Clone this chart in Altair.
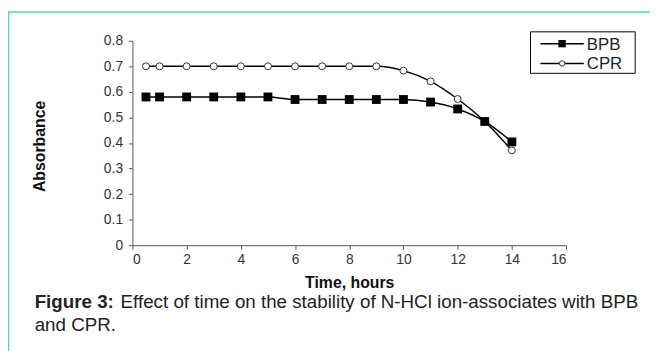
import altair as alt
import pandas as pd

hours = [0.5, 1, 2, 3, 4, 5, 6, 7, 8, 9, 10, 11, 12, 13, 14]
bpb = [0.58, 0.58, 0.58, 0.58, 0.58, 0.58, 0.57, 0.57, 0.57, 0.57, 0.57, 0.56, 0.533, 0.484, 0.404]
cpr = [0.70, 0.70, 0.70, 0.70, 0.70, 0.70, 0.70, 0.70, 0.70, 0.70, 0.683, 0.641, 0.572, 0.484, 0.371]
series_names = ["BPB", "CPR"]
x_ticks = [0, 2, 4, 6, 8, 10, 12, 14, 16]
y_ticks = [0, 0.1, 0.2, 0.3, 0.4, 0.5, 0.6, 0.7, 0.8]
x_title = "Time, hours"
y_title = "Absorbance"
caption_bold = "Figure 3:"
caption_line1 = "Effect of time on the stability of N-HCl ion-associates with BPB"
caption_line2 = "and CPR."

df = pd.DataFrame({
    "hours": hours + hours,
    "absorbance": bpb + cpr,
    "series": [series_names[0]] * len(hours) + [series_names[1]] * len(hours),
})
one = pd.DataFrame({"a": [0]})

W, H = 439, 207
FONT = "Liberation Sans"
TEAL = "#56d3c1"

x_enc = alt.X("hours:Q", scale=alt.Scale(domain=[0, 16], nice=False),
              axis=alt.Axis(values=x_ticks, title=x_title, grid=False, labelOverlap=False,
                            domainColor="#555", tickColor="#555", tickSize=4,
                            labelFont=FONT, labelFontSize=14, labelColor="#333",
                            labelPadding=4,
                            titleFont=FONT, titleFontSize=16, titleFontWeight="bold",
                            titleColor="#111", titleY=38, titleBaseline="middle"))
y_enc = alt.Y("absorbance:Q", scale=alt.Scale(domain=[0, 0.8], nice=False),
              axis=alt.Axis(values=y_ticks, format=".1~f", title=y_title, grid=False,
                            labelOverlap=False,
                            domainColor="#555", tickColor="#555", tickSize=4,
                            labelFont=FONT, labelFontSize=14, labelColor="#333",
                            labelPadding=6,
                            titleFont=FONT, titleFontSize=16, titleFontWeight="bold",
                            titleColor="#111", titleX=-94, titleY=H / 2 + 3,
                            titleAlign="center", titleBaseline="middle"))

base = alt.Chart(df)
lines = base.mark_line(interpolate="monotone", color="black", strokeWidth=1.5).encode(
    x=x_enc, y=y_enc, detail="series:N")
pts_bpb = base.transform_filter(alt.datum.series == "BPB").mark_point(
    shape="square", filled=True, color="black", size=80, opacity=1).encode(x=x_enc, y=y_enc)
pts_cpr = base.transform_filter(alt.datum.series == "CPR").mark_point(
    shape="circle", filled=True, fill="white", stroke="#333", strokeWidth=1, size=50, opacity=1).encode(
    x=x_enc, y=y_enc)

dec = alt.Chart(one)
border_top = dec.mark_rule(color=TEAL, strokeWidth=1.5).encode(
    x=alt.value(-126), x2=alt.value(530), y=alt.value(-29))
border_left = dec.mark_rule(color=TEAL, strokeWidth=1.5).encode(
    x=alt.value(-125.5), y=alt.value(-29), y2=alt.value(320))

leg_box = dec.mark_rect(fill="white", stroke="black", strokeWidth=1).encode(
    x=alt.value(403), x2=alt.value(509), y=alt.value(-9), y2=alt.value(33))
leg_line1 = dec.mark_rule(color="black", strokeWidth=1.5).encode(
    x=alt.value(413), x2=alt.value(457), y=alt.value(3))
leg_line2 = dec.mark_rule(color="black", strokeWidth=1.5).encode(
    x=alt.value(413), x2=alt.value(457), y=alt.value(23))
leg_pt1 = dec.mark_point(shape="square", filled=True, color="black", size=55, opacity=1).encode(
    x=alt.value(435), y=alt.value(3))
leg_pt2 = dec.mark_point(shape="circle", filled=True, fill="white", stroke="#333", strokeWidth=1,
                         size=30, opacity=1).encode(x=alt.value(435), y=alt.value(23))
leg_t1 = dec.mark_text(text=series_names[0], font=FONT, fontSize=17, align="left",
                       baseline="middle", color="#222").encode(x=alt.value(460), y=alt.value(4))
leg_t2 = dec.mark_text(text=series_names[1], font=FONT, fontSize=17, align="left",
                       baseline="middle", color="#222").encode(x=alt.value(460), y=alt.value(24))

cap_b = dec.mark_text(text=caption_bold, font=FONT, fontSize=19, fontWeight="bold", align="left",
                      baseline="middle", color="#222").encode(x=alt.value(-99), y=alt.value(265))
cap_1 = dec.mark_text(text=caption_line1, font=FONT, fontSize=19, align="left",
                      baseline="middle", color="#222").encode(x=alt.value(-12), y=alt.value(265))
cap_2 = dec.mark_text(text=caption_line2, font=FONT, fontSize=19, align="left",
                      baseline="middle", color="#222").encode(x=alt.value(-99), y=alt.value(288))

chart = alt.layer(
    border_top, border_left, lines, pts_cpr, pts_bpb,
    leg_box, leg_line1, leg_line2, leg_pt1, leg_pt2, leg_t1, leg_t2,
    cap_b, cap_1, cap_2,
).properties(
    width=W, height=H,
    autosize=alt.AutoSizeParams(type="none"),
    padding={"left": 126, "top": 31, "right": 85, "bottom": 105},
).configure_view(stroke=None)

chart.save("out.html", embed_options={"renderer": "svg", "actions": False})
